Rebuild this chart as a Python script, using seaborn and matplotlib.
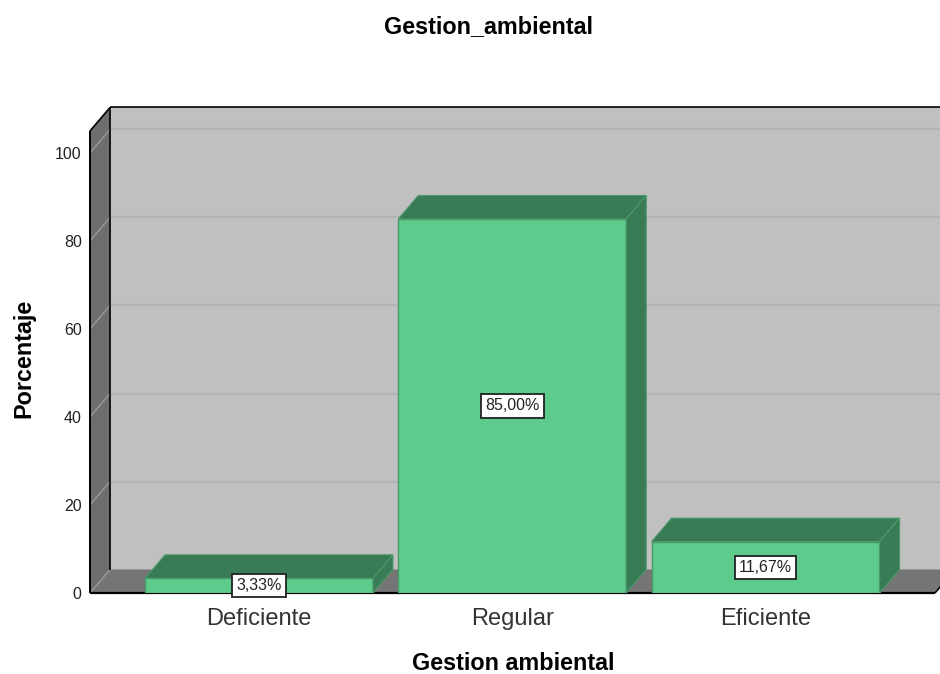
#Gestion_ambiental 3D style bar chart
import matplotlib
matplotlib.use('Agg')
import pandas as pd
import seaborn as sns
import matplotlib.pyplot as plt
from matplotlib.patches import Polygon

sns.set_style('white')
plt.rcParams['font.family'] = ['Liberation Sans', 'DejaVu Sans']

# data
categorias = ['Deficiente', 'Regular', 'Eficiente']
porcentajes = [3.33, 85.00, 11.67]
etiquetas = ['3,33%', '85,00%', '11,67%']
marcas_y = [0, 20, 40, 60, 80, 100]

# colors
VERDE = '#5ccb8b'
VERDE_OSCURO = '#397b54'
BORDE = '#4a9a6c'
PARED = '#c0c0c0'
PARED_LADO = '#6e6e6e'
PISO = '#757575'
REJILLA = '#b3b3b3'
REJILLA_LADO = '#9c9c9c'

# depth of the box
DX = 20 / 253.25
DY = 23.5 / 4.40
XMIN, XMAX = -0.667, 2.669
YMAX = 105

fig = plt.figure(figsize=(9.4, 6.74), dpi=100)
ax = fig.add_axes([90 / 940, 1 - 593 / 674, 845 / 940, 462 / 674])
ax.patch.set_visible(False)

tabla = pd.DataFrame({'categoria': categorias, 'porcentaje': porcentajes})
sns.barplot(data=tabla, x='categoria', y='porcentaje', order=categorias, color=VERDE,
            saturation=1, width=0.9, edgecolor=BORDE, linewidth=1, ax=ax)
ax.set_xlim(XMIN, XMAX)
ax.set_ylim(0, YMAX)


def poligono(puntos, color, z, borde='none'):
    ax.add_patch(Polygon(puntos, closed=True, facecolor=color, edgecolor=borde,
                         linewidth=0.8, zorder=z, clip_on=False))


def linea(xs, ys, color, z, lw=1.2):
    ax.plot(xs, ys, color=color, lw=lw, zorder=z, clip_on=False, solid_capstyle='butt')


# walls and floor
poligono([(XMIN + DX, DY), (XMAX + DX, DY), (XMAX + DX, YMAX + DY), (XMIN + DX, YMAX + DY)], PARED, 0.1)
poligono([(XMIN, 0), (XMIN + DX, DY), (XMIN + DX, YMAX + DY), (XMIN, YMAX)], PARED_LADO, 0.1)
poligono([(XMIN, 0), (XMAX, 0), (XMAX + DX, DY), (XMIN + DX, DY)], PISO, 0.15)

# gridlines on back and side wall
for m in marcas_y:
    linea([XMIN, XMIN + DX], [m, m + DY], REJILLA_LADO, 0.2, 0.9)
    if m > 0:
        linea([XMIN + DX, XMAX + DX], [m + DY, m + DY], REJILLA, 0.2, 1.5)

# box outline
linea([XMIN + DX, XMIN + DX], [DY, YMAX + DY], 'black', 0.3)
linea([XMIN + DX, XMAX + DX], [YMAX + DY, YMAX + DY], 'black', 0.3)
linea([XMIN, XMIN + DX], [YMAX, YMAX + DY], 'black', 0.3)
linea([XMAX, XMAX + DX], [0, DY], 'black', 0.3)
linea([XMIN, XMIN], [0, YMAX], 'black', 2.4, 1.4)
linea([XMIN, XMAX], [0, 0], 'black', 2.4, 1.6)

# top and side faces from the bars seaborn drew
for barra in ax.containers[0]:
    barra.set_zorder(3)
    x0 = barra.get_x()
    x1 = x0 + barra.get_width()
    alto = barra.get_height()
    poligono([(x0, alto), (x1, alto), (x1 + DX, alto + DY), (x0 + DX, alto + DY)], VERDE_OSCURO, 3, BORDE)
    poligono([(x1, 0), (x1 + DX, DY), (x1 + DX, alto + DY), (x1, alto)], VERDE_OSCURO, 3, BORDE)

# value labels
for i, (valor, texto) in enumerate(zip(porcentajes, etiquetas)):
    ax.text(i, valor / 2, texto, ha='center', va='center', fontsize=11.5, color='#222222', zorder=5,
            clip_on=False, bbox=dict(boxstyle='square,pad=0.27', facecolor='white', edgecolor='#222222', linewidth=1.3))

sns.despine(ax=ax, left=True, bottom=True, top=True, right=True)
ax.set_yticks(marcas_y)
ax.tick_params(axis='y', length=0, pad=6, labelsize=11.5, labelcolor='#222222')
ax.tick_params(axis='x', length=0, pad=10.5, labelsize=17, labelcolor='#333333')
ax.set_xlabel('Gestion ambiental', fontsize=16.8, fontweight='bold', color='black', labelpad=16, x=0.501)
ax.set_ylabel('Porcentaje', fontsize=16.8, fontweight='bold', color='black', labelpad=14, y=0.508)
fig.suptitle('Gestion_ambiental', x=488.7 / 940, y=1 - 27 / 674, va='center',
             fontsize=16.8, fontweight='bold', color='black')

fig.savefig('out.png', dpi=100)
